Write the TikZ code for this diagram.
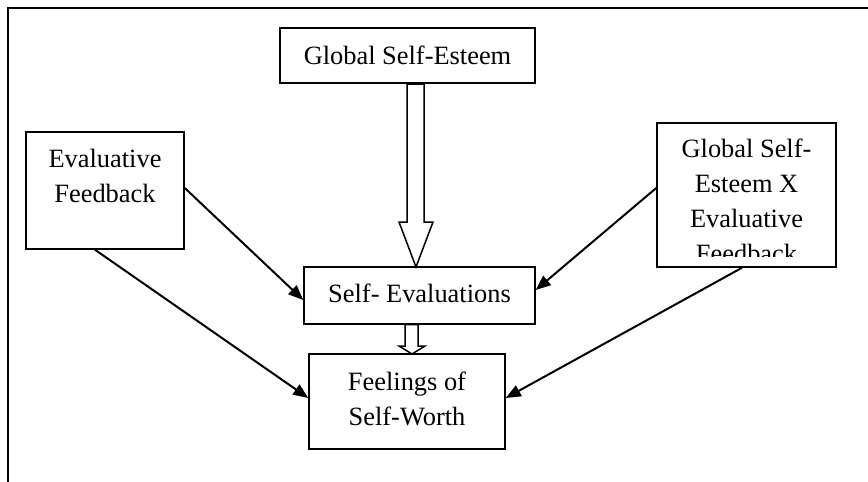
\documentclass[tikz,border=0pt]{standalone}
\usepackage{fontspec}
\setmainfont{Liberation Serif}
\usetikzlibrary{arrows.meta,calc}
\tikzset{
  boxnode/.style={draw, line width=1.5pt, inner sep=0pt, rectangle},
  lbl/.style={anchor=base, inner sep=0pt, font=\fontsize{26.4}{35}\selectfont},
  conn/.style={line width=2pt, -{Triangle[length=15pt,width=12pt]}},
  hollow/.style={draw, line width=1.5pt, fill=white, line join=miter}
}
\begin{document}
\begin{tikzpicture}[x=1pt,y=-1pt]
\useasboundingbox (0,0) rectangle (868,482);
% frame
\draw[line width=2pt] (8,482) -- (8,7.7) -- (868,7.7);
% boxes
\node[boxnode, minimum width=255pt, minimum height=55pt] (gse) at (407.5,55.5) {};
\node[lbl] (gsel) at (407.5,64) {Global Self-Esteem};
\node[boxnode, minimum width=158pt, minimum height=117pt] (ef) at (105,190.5) {};
\node[lbl] (efl1) at (105,167) {Evaluative};
\node[lbl] (efl2) at (105,202) {Feedback};
\begin{scope}
\clip (657,123) rectangle (836,256);
\node[lbl] (gxl1) at (746.5,157) {Global Self-};
\node[lbl] (gxl2) at (746.5,192) {Esteem X};
\node[lbl] (gxl3) at (746.5,227) {Evaluative};
\node[lbl] (gxl4) at (746.5,262) {Feedback};
\end{scope}
\node[boxnode, minimum width=179pt, minimum height=144pt] (gx) at (746.5,195) {};
\node[boxnode, minimum width=231pt, minimum height=57pt] (se) at (419.5,295.5) {};
\node[lbl] (sel) at (419.5,302) {Self- Evaluations};
\node[boxnode, minimum width=196pt, minimum height=95pt] (fw) at (407,401.5) {};
\node[lbl] (fwl1) at (407,390) {Feelings of};
\node[lbl] (fwl2) at (407,425) {Self-Worth};
% hollow arrows
\draw[hollow] (407,84) -- (407,222) -- (399,222) -- (416,267) -- (433,222) -- (424,222) -- (424,84) -- cycle;
\draw[hollow] (405,324.5) -- (405,346) -- (399,346) -- (412,354) -- (425,346) -- (418,346) -- (418,324.5) -- cycle;
% connectors
\draw[conn] ($(ef.east)+(0,-2.5)$) -- ($(se.west)+(0,4.5)$);
\draw[conn] ($(ef.south)+(-10,0)$) -- ($(fw.west)+(0,-3.5)$);
\draw[conn] ($(gx.west)+(0,-7)$) -- ($(se.east)+(0,-5.5)$);
\draw[conn] ($(gx.south)+(-4.5,0)$) -- ($(fw.east)+(0,-3.5)$);
\end{tikzpicture}
\end{document}
